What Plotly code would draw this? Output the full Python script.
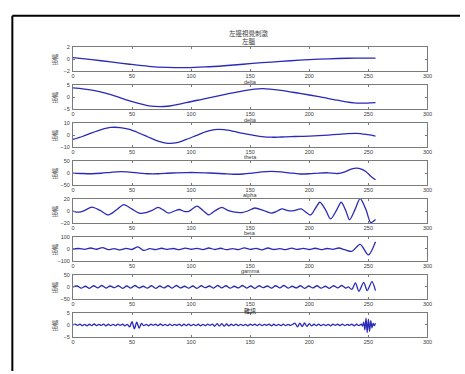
import plotly.graph_objects as go

# ---- EEG band decomposition, left-hemisphere channel ----
# sample index axis for the evenly read channels
x16 = list(range(0, 257, 16))
x8 = list(range(0, 257, 8))

delta_a = [0.25, -0.1, -0.45, -0.85, -1.2, -1.38, -1.42, -1.3, -1.1, -0.85,
           -0.6, -0.38, -0.18, -0.02, 0.1, 0.16, 0.16]

delta_b = [3.8, 2.9, 1.0, -1.6, -3.6, -3.8, -2.3, -0.6, 1.0, 2.6,
           3.5, 2.8, 1.5, 0.2, -1.3, -2.5, -2.3]

theta = [-3.5, -1.2, 1.8, 4.5, 6.3, 6.2, 4.6, 1.6, -1.8, -5.0, -6.8, -6.3,
         -3.6, -0.5, 2.6, 4.5, 4.4, 3.0, 1.3, 0.0, -1.3, -1.8, -1.6, -1.3,
         -1.1, -0.9, -0.5, 0.0, 0.6, 1.2, 1.4, 0.5, -0.9]

alpha_x = [0, 8, 16, 24, 32, 40, 48, 56, 64, 72, 80, 88, 96, 104, 112, 120,
           128, 136, 144, 152, 160, 168, 176, 184, 192, 200, 208, 216, 224,
           230, 236, 240, 244, 248, 252, 256]
alpha = [0, -2, -3, -1, 3, 6, 4, 0, -3, -3, -1, 1, 2, 2, 1, -1, -3, -5, -4,
         0, 5, 7, 5, 0, -4, -3, 0, 1, -2, 5, 17, 20, 16, 5, -13, -28]

beta_x = [0, 5, 10, 16, 23, 30, 37, 43, 50, 57, 62, 67, 72, 77, 81, 86, 90,
          94, 98, 105, 110, 115, 120, 126, 131, 137, 143, 148, 154, 161, 168,
          173, 177, 182, 187, 193, 201, 205, 209, 214, 218, 223, 227, 231,
          234, 239, 243, 248, 252, 256]
beta = [0, -2, 1, 6.5, 1, -6.5, 2, 10.5, 3, -4, -2.5, 1, 6, 1, -3.5, 0, 2.5,
        -0.5, -0.5, 8, 1, -6.5, 0, 6, 1, -2, -2.5, 0, 5, 1, -3.5, 0, 3.5, 0.5,
        0.5, 3.5, -6.5, 4, 14.5, 1, -13, 1, 14.5, 0, -14.5, 4, 20.5, 2, -19,
        -14]

gamma_x = list(range(0, 231, 5)) + [236, 243, 250, 256]
gamma = [0, 4, -3, 8, -2, 12, -6, 3, -8, 5, -4, 18, -12, 3, -5, 6, -3, 4, -6,
         7, -2, 5, -5, 8, -4, 6, -6, 3, -5, 9, -3, 5, -7, 8, -4, 3, -6, 7, -3,
         5, -4, 6, -5, 4, -3, 8, -6, -20, 38, -49, 60]

high_x = [i * 3.5 for i in range(67)] + [233, 236, 239, 242, 246, 249, 253, 256]
high = [0, 4, -5, 3, -6, 5, -4, 6, -5, 4, -3, 5, -6, 4, -5, 6, -4, 3, -5, 5,
        -6, 4, -4, 5, -5, 6, -4, 3, -5, 4, -6, 5, -3, 4, -5, 6, -4, 5, -5, 3,
        -4, 6, -5, 4, -6, 5, -3, 4, -5, 5, -4, 6, -5, 3, -4, 5, -6, 4, -4, 5,
        -5, 3, -6, 5, -4, 6, -5,
        0, -10, 17, -18, 19, -15, 22, -15]

noise_x = list(range(0, 244, 2)) + list(range(244, 257))
noise = [0, 0.3, -0.2, 0.35, -0.3, 0.2, -0.35, 0.3, -0.25, 0.4, -0.3, 0.25,
         -0.2, 0.35, -0.4, 0.3, -0.25, 0.2, -0.3, 0.35, -0.2, 0.3, -0.35, 0.25,
         -0.8, 1.4, -1.6, 1.2, -1.3, 0.6,
         -0.3, 0.25, -0.35, 0.3, -0.2, 0.3, -0.3, 0.4, -0.25, 0.2, -0.3, 0.35,
         -0.3, 0.25, -0.2, 0.3, -0.35, 0.3, -0.25, 0.35, -0.3, 0.2, -0.25, 0.3,
         -0.35, 0.25, -0.3, 0.35, -0.2, 0.3,
         -0.5, 0.5, -0.45, 0.55, -0.5, 0.4, -0.4,
         0.3, -0.25, 0.35, -0.3, 0.2, -0.3, 0.25, -0.35, 0.3, -0.2, 0.3, -0.25,
         0.35, -0.3, 0.25, -0.2, 0.3, -0.35, 0.3, -0.25, 0.2, -0.3, 0.35, -0.3,
         0.25, -0.2, 0.3,
         0.7, -0.8, 0.75, -0.7, 0.8, -0.6, 0.5, -0.4,
         0.3, -0.25, 0.35, -0.3, 0.2, -0.3, 0.25, -0.35, 0.3, -0.2, 0.3, -0.25,
         0.35, -0.3, 0.25, -0.2, 0.3, -0.35, 0.3, -0.25,
         0.3, -0.5, 1.2, -2.0, 2.8, -3.2, 2.4, -2.6, 1.8, -1.2, 0.6, -0.3, 0.7]

series = [
    (x16, delta_a, 2, "delta"),
    (x16, delta_b, 5, "delta"),
    (x8, theta, 10, "theta"),
    (alpha_x, alpha, 50, "alpha"),
    (beta_x, beta, 20, "beta"),
    (gamma_x, gamma, 100, "gamma"),
    (high_x, high, 50, ""),
    (noise_x, noise, 5, ""),
]

x_ticks = [0, 50, 100, 150, 200, 250, 300]
y_label = "振幅"
main_title = "左邊視覺刺激<br>左腦"
noise_title = "雜訊"

W, H = 465, 374
AX_LEFT, AX_RIGHT = 72, 432
CENTER0, STEP, HALF = 57, 38.6, 12.3


def fx(p):
    return p / W


def fy(p):
    return 1 - p / H


def label(x, y, text, size, family, color, angle=0):
    return dict(x=fx(x), y=fy(y), xref="paper", yref="paper", text=text,
                xanchor="center", yanchor="middle", textangle=angle,
                showarrow=False, font=dict(family=family, size=size,
                                           color=color))


fig = go.Figure()
annotations = []
axis_col = "#7a7a7a"
text_col = "#3a3a3a"
latin = "Liberation Sans, Arial"
cjk = "Noto Sans CJK TC"
tick_font = dict(family=latin, size=5.5, color=text_col)

for k, (xs, ys, lim, name) in enumerate(series):
    n = k + 1
    xa = "x" if n == 1 else f"x{n}"
    ya = "y" if n == 1 else f"y{n}"
    c = CENTER0 + STEP * k
    top, bot = c - HALF, c + HALF
    fig.add_trace(go.Scatter(
        x=xs, y=ys, mode="lines", xaxis=xa, yaxis=ya,
        line=dict(color="#2a2ab8", width=1.3, shape="spline", smoothing=0.8),
        showlegend=False, hoverinfo="skip"))
    common = dict(showline=True, mirror="ticks", linecolor=axis_col,
                  linewidth=1, ticks="inside", ticklen=2, tickcolor=axis_col,
                  showgrid=False, zeroline=False, tickfont=tick_font)
    fig.layout[f"xaxis{'' if n == 1 else n}"] = dict(
        domain=[fx(AX_LEFT), fx(AX_RIGHT)], anchor=ya, range=[0, 300],
        tickvals=x_ticks, ticklabelstandoff=-1, **common)
    fig.layout[f"yaxis{'' if n == 1 else n}"] = dict(
        domain=[fy(bot), fy(top)], anchor=xa, range=[-lim, lim],
        tickvals=[-lim, 0, lim], ticklabelstandoff=1, **common)
    annotations.append(label(54, c, y_label, 5.5, cjk, text_col, -90))
    if name:
        annotations.append(label((AX_LEFT + AX_RIGHT) / 2, bot + 10.5, name,
                                 5.5, latin, text_col))

annotations.append(label(251, 35, main_title, 6.5, cjk, text_col))
annotations.append(label(252, CENTER0 + STEP * 7 - HALF - 2.5, noise_title,
                         6, cjk, "#222222"))

fig.update_layout(
    width=W, height=H, autosize=False,
    margin=dict(l=0, r=0, t=0, b=0),
    paper_bgcolor="white", plot_bgcolor="white",
    annotations=annotations,
    shapes=[
        dict(type="line", xref="paper", yref="paper", x0=fx(10.5), x1=1,
             y0=fy(13), y1=fy(13), line=dict(color="black", width=2)),
        dict(type="line", xref="paper", yref="paper", x0=fx(10.5), x1=fx(10.5),
             y0=fy(13), y1=0, line=dict(color="black", width=2)),
    ],
)

fig.write_html("out.html")
